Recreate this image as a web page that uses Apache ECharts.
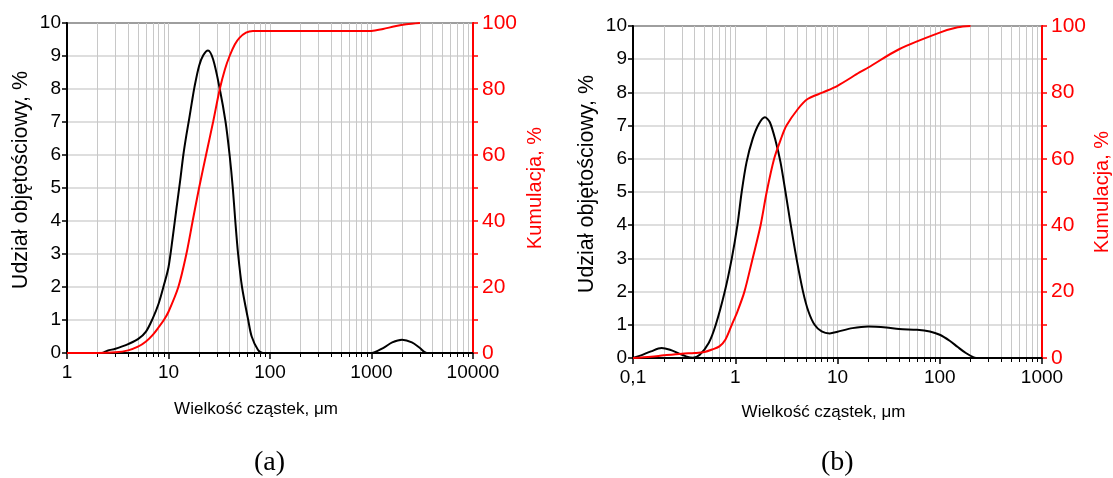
<!DOCTYPE html>
<html><head><meta charset="utf-8">
<script src="https://cdn.jsdelivr.net/npm/echarts@6/dist/echarts.min.js"></script>
<style>html,body{margin:0;padding:0;background:#fff}#c{width:1113px;height:478px}</style>
</head><body><div id="c"></div>
<script>
// ---- Panel (a) ----
const sizeA_diff = [1, 2.2, 2.5, 3, 3.5, 4, 5, 6, 7, 8, 9, 10, 11, 12, 13, 14, 15, 16, 17, 18, 20, 22, 24.5, 27.5, 32, 36.5, 40, 43, 45.5, 48.5, 53, 61, 66, 76, 85, 1000, 1300, 1600, 2000, 2500, 3000, 3500, 10000];
const valA_diff  = [0, 0, 0.07, 0.13, 0.2, 0.27, 0.42, 0.65, 1.05, 1.5, 2.05, 2.6, 3.5, 4.4, 5.2, 6.0, 6.6, 7.1, 7.6, 8.05, 8.7, 9.02, 9.17, 8.9, 8.0, 7.0, 6.0, 5.0, 4.0, 3.0, 2.0, 1.0, 0.5, 0.1, 0, 0, 0.15, 0.32, 0.4, 0.32, 0.15, 0, 0];
const sizeA_cum  = [1, 2, 3, 4, 5, 6, 7, 8, 9, 10, 12.5, 15, 17.3, 20, 23.8, 27.5, 32, 36, 40, 45, 50, 58, 68, 1000, 1300, 1700, 2200, 3000];
const valA_cum   = [0, 0, 0.2, 0.8, 1.9, 3.5, 5.5, 7.8, 10, 12.5, 20, 30, 40, 50, 61, 70, 80, 86, 90, 93.5, 95.5, 97.1, 97.6, 97.6, 98.2, 99.0, 99.6, 100];
// ---- Panel (b) ----
const sizeB_diff = [0.1, 0.12, 0.15, 0.19, 0.23, 0.28, 0.33, 0.385, 0.45, 0.55, 0.645, 0.79, 0.925, 1.05, 1.156, 1.29, 1.48, 1.7, 1.95, 2.18, 2.5, 2.77, 3.1, 3.45, 3.97, 4.6, 5.2, 5.97, 7, 8.4, 10, 14, 20, 30, 40, 60, 80, 100, 125, 150, 180, 215, 240, 1000];
const valB_diff  = [0, 0.08, 0.2, 0.3, 0.25, 0.14, 0.05, 0.01, 0.1, 0.45, 1.0, 2.0, 3.0, 4.0, 5.0, 5.9, 6.6, 7.05, 7.25, 7.1, 6.5, 5.9, 5.0, 4.1, 3.0, 2.0, 1.4, 1.0, 0.8, 0.74, 0.79, 0.9, 0.95, 0.92, 0.87, 0.85, 0.8, 0.7, 0.52, 0.33, 0.15, 0.02, 0, 0];
const sizeB_cum  = [0.1, 0.15, 0.2, 0.3, 0.4, 0.5, 0.6, 0.7, 0.8, 0.925, 1.05, 1.23, 1.48, 1.77, 2.03, 2.4, 2.8, 3.17, 4.1, 5.1, 7.2, 10, 16.4, 20, 40, 100, 150, 200];
const valB_cum   = [0, 0.4, 0.8, 1.3, 1.5, 1.8, 2.6, 3.5, 5.5, 10, 14, 20, 30, 40, 50, 60, 66, 70, 75, 78, 80, 82, 86, 87.5, 93, 98, 99.6, 100];

const leftTicks = [0, 10, 1];
const rightTicks = [0, 100, 10];
const xRangeA = [1, 10000];
const xRangeB = [0.1, 1000];
const xName = 'Wielkość cząstek, μm';
const yNameL = 'Udział objętościowy, %';
const yNameR = 'Kumulacja, %';
const panelLabels = ['(a)', '(b)'];

const zip = (xs, ys) => xs.map((x, i) => [x, ys[i]]);
const FONT = 'Liberation Sans';

function xAxisCfg(gi, range, gap) {
  return {
    gridIndex: gi, type: 'log', logBase: 10, min: range[0], max: range[1],
    axisLine: {show: true, lineStyle: {color: '#000', width: 2}},
    axisTick: {show: true, length: 6, lineStyle: {color: '#000', width: 1.5}},
    minorTick: {show: true, splitNumber: 9, length: 4, lineStyle: {color: '#000', width: 1}},
    splitLine: {show: true, lineStyle: {color: '#c8c8c8', width: 1}},
    minorSplitLine: {show: true, lineStyle: {color: '#c8c8c8', width: 1}},
    axisLabel: {color: '#000', fontSize: 19, fontFamily: FONT, margin: 10,
      formatter: v => String(v).replace('.', ',')},
    name: xName, nameLocation: 'middle', nameGap: gap,
    nameTextStyle: {color: '#000', fontSize: 17, fontFamily: FONT, padding: [0, 28, 0, 0]}
  };
}
function yLeftCfg(gi, gap) {
  return {
    gridIndex: gi, type: 'value', position: 'left', min: leftTicks[0], max: leftTicks[1], interval: leftTicks[2],
    axisLine: {show: true, lineStyle: {color: '#000', width: 2}},
    axisTick: {show: true, length: 5, lineStyle: {color: '#000', width: 1.5}},
    splitLine: {show: true, lineStyle: {color: '#d3d3d3', width: 1.5}},
    axisLabel: {color: '#000', fontSize: 19, fontFamily: FONT, margin: 6},
    name: yNameL, nameLocation: 'middle', nameGap: gap,
    nameTextStyle: {color: '#000', fontSize: 21.5, fontFamily: FONT, padding: [0, 0, 0, 16]}
  };
}
function yRightCfg(gi, gap) {
  return {
    gridIndex: gi, type: 'value', position: 'right', min: rightTicks[0], max: rightTicks[1], interval: rightTicks[2],
    axisLine: {show: true, lineStyle: {color: '#ff0000', width: 2}},
    axisTick: {show: true, length: 5, lineStyle: {color: '#ff0000', width: 1.5}},
    splitLine: {show: false},
    axisLabel: {color: '#ff0000', fontSize: 21, fontFamily: FONT, margin: 9,
      formatter: v => (v % 20 === 0 ? String(v) : '')},
    name: yNameR, nameLocation: 'middle', nameGap: gap, nameRotate: 90,
    nameTextStyle: {color: '#ff0000', fontSize: 20, fontFamily: FONT}
  };
}
function lineSeries(xi, yi, data, color) {
  return {
    type: 'line', xAxisIndex: xi, yAxisIndex: yi, data: data, showSymbol: false,
    smooth: 0.3, lineStyle: {color: color, width: 2}, itemStyle: {color: color}, z: 5
  };
}

const chart = echarts.init(document.getElementById('c'), null, {renderer: 'canvas'});
chart.setOption({
  animation: false,
  backgroundColor: '#fff',
  grid: [
    {left: 67, top: 23, width: 406, height: 330, show: true, borderColor: '#000', borderWidth: 2, backgroundColor: 'transparent'},
    {left: 633, top: 26, width: 410, height: 332, show: true, borderColor: '#000', borderWidth: 2, backgroundColor: 'transparent'}
  ],
  xAxis: [xAxisCfg(0, xRangeA, 48), xAxisCfg(1, xRangeB, 46)],
  yAxis: [yLeftCfg(0, 35), yRightCfg(0, 52), yLeftCfg(1, 35), yRightCfg(1, 50)],
  series: [
    lineSeries(0, 0, zip(sizeA_diff, valA_diff), '#000'),
    lineSeries(0, 1, zip(sizeA_cum, valA_cum), '#ff0000'),
    lineSeries(1, 2, zip(sizeB_diff, valB_diff), '#000'),
    lineSeries(1, 3, zip(sizeB_cum, valB_cum), '#ff0000')
  ],
  graphic: [
    {type: 'text', left: 254, top: 449, style: {text: panelLabels[0], font: '28px "Liberation Serif"', fill: '#000'}},
    {type: 'text', left: 821, top: 449, style: {text: panelLabels[1], font: '28px "Liberation Serif"', fill: '#000'}}
  ]
});
</script>
</body></html>
